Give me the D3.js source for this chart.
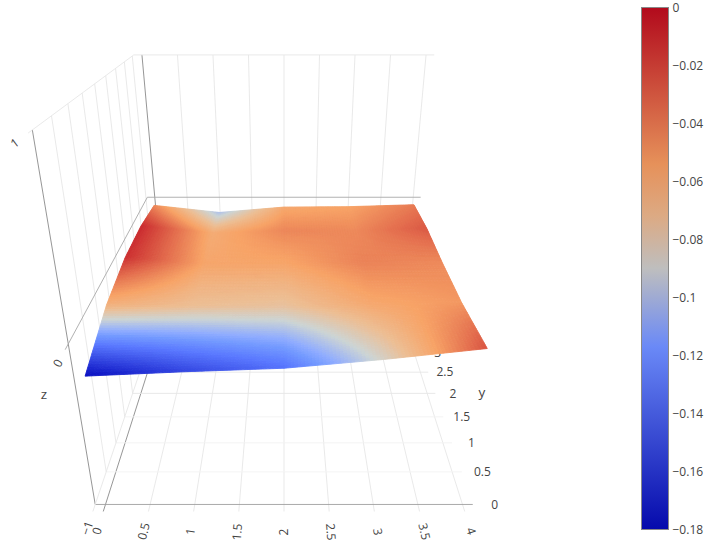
<!DOCTYPE html>
<html><head><meta charset="utf-8">
<script src="https://cdn.jsdelivr.net/npm/d3@7/dist/d3.min.js"></script>
<style>html,body{margin:0;padding:0;background:#fff}svg{display:block}text{font-family:"Open Sans",sans-serif;fill:#444}</style>
</head><body><svg id="c" width="711" height="554"></svg>
<script>
const xValues = [0,1,2,3,4];
const yValues = [0,1,2,3,4];
const zAtY0 = [-0.18,-0.155,-0.135,-0.085,-0.025];
const zAtY1 = [-0.062,-0.072,-0.075,-0.057,-0.050];
const zAtY2 = [-0.012,-0.056,-0.056,-0.042,-0.045];
const zAtY3 = [-0.010,-0.060,-0.044,-0.045,-0.027];
const zAtY4 = [-0.045,-0.100,-0.058,-0.055,-0.040];
const zGrid = [zAtY0,zAtY1,zAtY2,zAtY3,zAtY4];
const xTicks = [0,0.5,1,1.5,2,2.5,3,3.5,4];
const yTicks = [0,0.5,1,1.5,2,2.5,3,3.5,4];
const yTickLabelsShown = [0,0.5,1,1.5,2,2.5,3];
const zTicks = [-1,0,1];
const colorDomain = [-0.18,-0.117,-0.09,-0.072,-0.054,0];
const colorRange = ["rgb(5,10,172)","rgb(106,137,247)","rgb(190,190,190)","rgb(220,170,132)","rgb(230,145,90)","rgb(178,10,28)"];
const colorbarTicks = [0,-0.02,-0.04,-0.06,-0.08,-0.1,-0.12,-0.14,-0.16,-0.18];

const xMin=-0.115,xMax=4.115,yMin=-0.1,yMax=4.1,zMin=-1,zMax=1;
const svg=d3.select("#c");
const color=d3.scaleLinear().domain(colorDomain).range(colorRange).clamp(true);
const lit=c=>{const k=d3.rgb(c);return d3.rgb(Math.min(255,k.r*1.06+3),Math.min(255,k.g*1.1+3),Math.min(255,k.b*1.1+3)).formatRgb();};

// perspective camera
const wOf=(y,z)=>0.009804+0.001384*y-0.0014*z;
const nOf=(y,z)=>3.372-0.0778*y-2.28*z;
const project=(x,y,z)=>{const w=wOf(y,z);return [284+(x-2)/w,nOf(y,z)/w];};
const poly=pts=>"M"+pts.map(p=>p[0].toFixed(2)+","+p[1].toFixed(2)).join("L")+"Z";

const grid=svg.append("g").attr("fill","none").attr("stroke-width",0.9);
const seg=(a,b,col)=>{const p=project(...a),q=project(...b);
  grid.append("line").attr("x1",p[0]).attr("y1",p[1]).attr("x2",q[0]).attr("y2",q[1]).attr("stroke",col);};
const LIGHT="#e6e6e6",DARK="#a8a8a8",FAINT="#f3f3f3";
// back wall
xTicks.forEach(x=>seg([x,yMax,zMin],[x,yMax,zMax],x===0?"#8a8a8a":LIGHT));
seg([xMin,yMax,zMax],[xMax,yMax,zMax],LIGHT);
seg([xMin,yMax,0],[xMax,yMax,0],DARK);
// left wall
yTicks.forEach(y=>seg([xMin,y,zMin],[xMin,y,zMax],y===0?"#8a8a8a":LIGHT));
seg([xMin,yMin,zMax],[xMin,yMax,zMax],LIGHT);
seg([xMin,yMin,0],[xMin,yMax,0],DARK);
// floor
xTicks.forEach(x=>seg([x,yMin,zMin],[x,yMax,zMin],x===0?"#8a8a8a":LIGHT));
yTicks.forEach(y=>seg([xMin,y,zMin],[xMax,y,zMin],y===0?"#a0a0a0":(y<2?FAINT:LIGHT)));
seg([xMin,yMin,zMin],[xMin,yMax,zMin],LIGHT);

// tick labels
const rotLabel=(x,y,txt,a)=>svg.append("text").attr("transform",`translate(${x},${y}) rotate(${a})`)
  .attr("text-anchor","middle").attr("dy","0.35em").attr("font-size",12).text(txt);
const fmt=d3.format("~g");
xTicks.forEach(x=>{
  const p=project(x,yMin,zMin),q=project(x,yMax,zMin);
  const dx=q[0]-p[0],dy=q[1]-p[1],l=Math.hypot(dx,dy);
  let a=Math.atan2(dy,dx)*180/Math.PI; if(a<-90.01)a+=180;
  rotLabel(p[0]-dx/l*20.5,p[1]-dy/l*20.5,fmt(x),a);
});
zTicks.forEach(z=>{
  const p=project(xMin,0,z),q=project(xMin,yMax,z);
  const dx=q[0]-p[0],dy=q[1]-p[1],l=Math.hypot(dx,dy);
  const gap=z===zMin?25:22;
  rotLabel(p[0]-dx/l*gap,p[1]-dy/l*gap,fmt(z),Math.atan2(dy,dx)*180/Math.PI);
});
yTickLabelsShown.forEach(y=>{
  const p=project(xMax+0.245,y,zMin);
  rotLabel(p[0],p[1],fmt(y),0);
});
const ty=project(4.765,2,zMin);
svg.append("text").attr("x",ty[0]).attr("y",ty[1]).attr("text-anchor","middle").attr("dy","0.3em").attr("font-size",13.5).text("y");
svg.append("text").attr("x",44).attr("y",395).attr("text-anchor","middle").attr("dy","0.3em").attr("font-size",13.5).text("z");

// surface
const bilinear=(u,v)=>{
  const i=Math.min(Math.floor(u),xValues.length-2),j=Math.min(Math.floor(v),yValues.length-2),a=u-i,b=v-j;
  return (1-b)*((1-a)*zGrid[j][i]+a*zGrid[j][i+1])+b*((1-a)*zGrid[j+1][i]+a*zGrid[j+1][i+1]);
};
const N=28,cells=[];
for(let j=4*N-1;j>=0;j--)for(let i=0;i<4*N;i++)cells.push({i,j});
const nodePt=(i,j)=>{const u=i/N,v=j/N;return project(xValues[0]+u,yValues[0]+v,bilinear(u,v));};
svg.append("g").selectAll("path").data(cells).join("path")
  .attr("d",d=>poly([nodePt(d.i,d.j),nodePt(d.i+1,d.j),nodePt(d.i+1,d.j+1),nodePt(d.i,d.j+1)]))
  .each(function(d){const c=lit(color(bilinear((d.i+.5)/N,(d.j+.5)/N)));d3.select(this).attr("fill",c).attr("stroke",c).attr("stroke-width",0.9);});

// colorbar
const cbY=d3.scaleLinear().domain([0,-0.18]).range([7.5,529.5]);
const defs=svg.append("defs");
const lg=defs.append("linearGradient").attr("id","cb").attr("x1",0).attr("x2",0).attr("y1",1).attr("y2",0);
colorDomain.forEach((v,k)=>lg.append("stop").attr("offset",(v+0.18)/0.18).attr("stop-color",colorRange[k]));
svg.append("rect").attr("x",641.5).attr("y",cbY(0)).attr("width",27).attr("height",cbY(-0.18)-cbY(0))
  .attr("fill","url(#cb)").attr("stroke","#888").attr("stroke-width",1);
const ax=svg.append("g").attr("transform","translate(668.5,0)")
  .call(d3.axisRight(cbY).tickValues(colorbarTicks).tickSize(0).tickPadding(4).tickFormat(fmt));
ax.select(".domain").remove();
ax.selectAll("text").attr("font-size",12).attr("font-family",'"Open Sans",sans-serif').style("fill","#444");
</script></body></html>
